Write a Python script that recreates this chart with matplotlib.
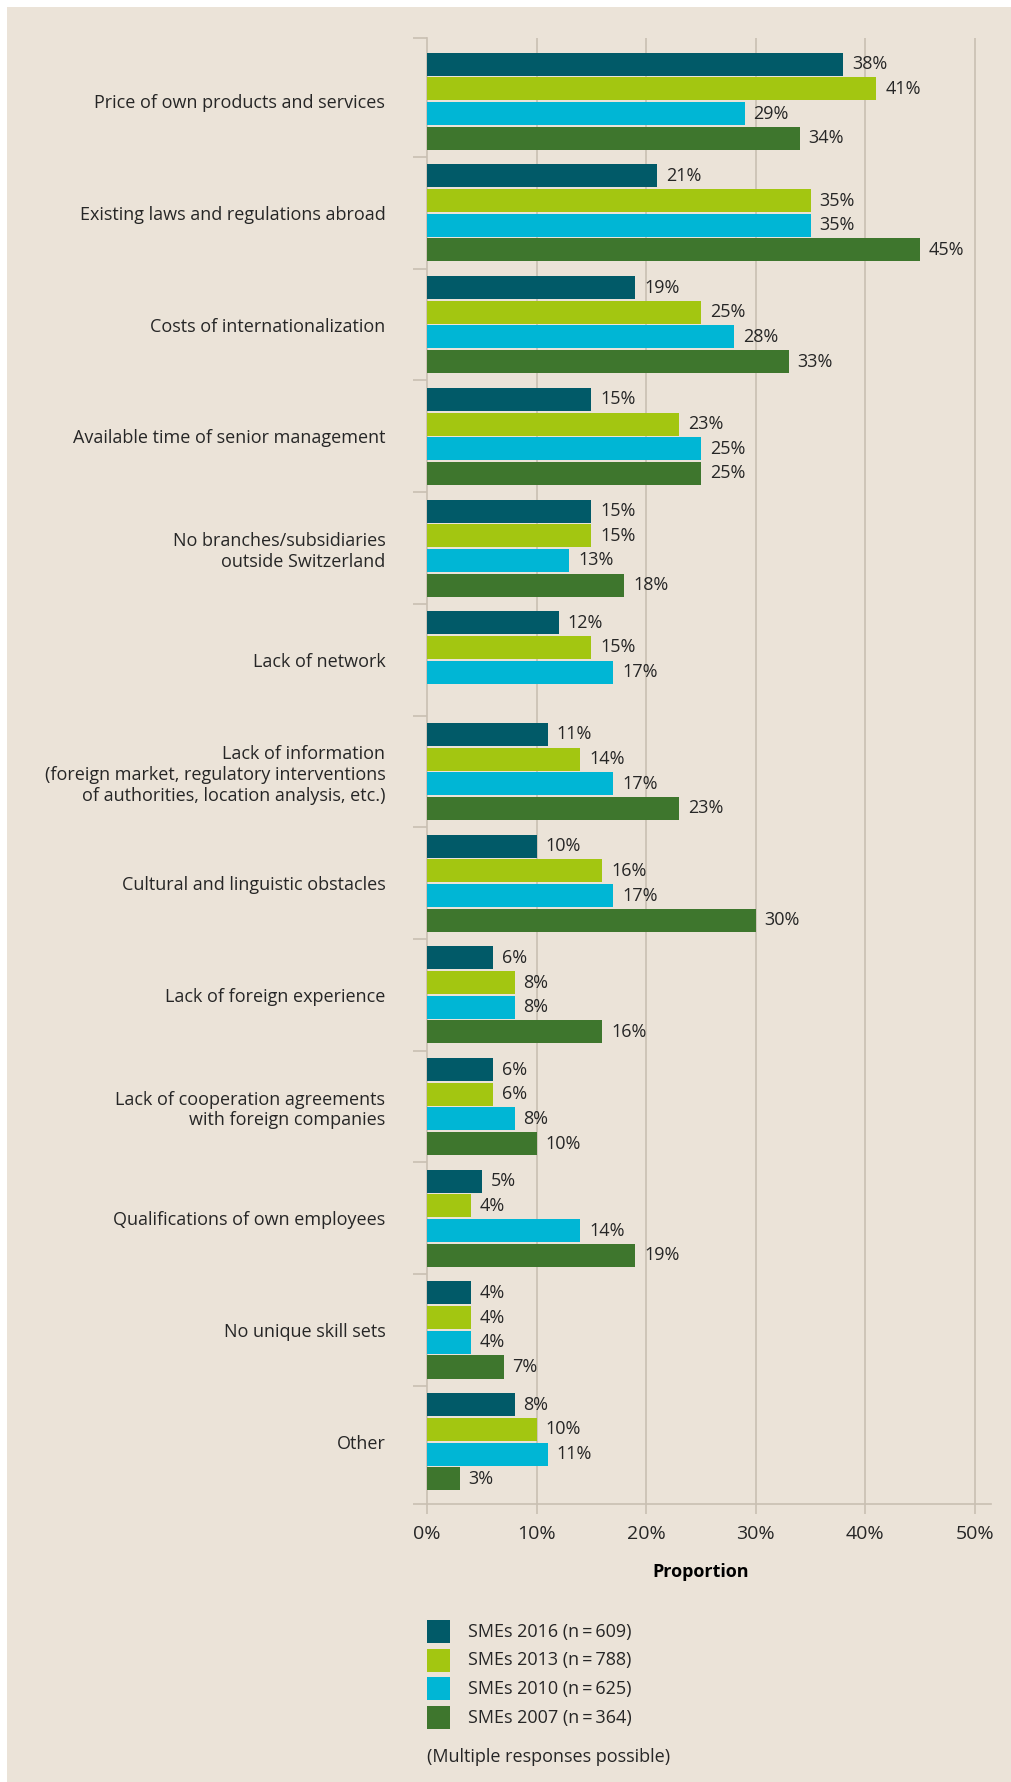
import numpy as np
import matplotlib.pyplot as plt
from matplotlib.patches import Rectangle

plt.rcParams['font.family'] = ['Open Sans', 'DejaVu Sans']

categories = [
    "Price of own products and services",
    "Existing laws and regulations abroad",
    "Costs of internationalization",
    "Available time of senior management",
    "No branches/subsidiaries\noutside Switzerland",
    "Lack of network",
    "Lack of information\n(foreign market, regulatory interventions\nof authorities, location analysis, etc.)",
    "Cultural and linguistic obstacles",
    "Lack of foreign experience",
    "Lack of cooperation agreements\nwith foreign companies",
    "Qualifications of own employees",
    "No unique skill sets",
    "Other",
]
smes_2016 = [38, 21, 19, 15, 15, 12, 11, 10, 6, 6, 5, 4, 8]
smes_2013 = [41, 35, 25, 23, 15, 15, 14, 16, 8, 6, 4, 4, 10]
smes_2010 = [29, 35, 28, 25, 13, 17, 17, 17, 8, 8, 14, 4, 11]
smes_2007 = [34, 45, 33, 25, 18, None, 23, 30, 16, 10, 19, 7, 3]
series_labels = ["SMEs 2016 (n\u2009=\u2009609)", "SMEs 2013 (n\u2009=\u2009788)",
                 "SMEs 2010 (n\u2009=\u2009625)", "SMEs 2007 (n\u2009=\u2009364)"]
colors = ["#015a68", "#a3c611", "#00b6d5", "#3e762d"]
xticks = [0, 10, 20, 30, 40, 50]

bg = "#ebe3d8"
grid_col = "#c9bfb2"
txt = "#262626"

W, H = 1012, 1782
fig = plt.figure(figsize=(W / 100, H / 100), dpi=100, facecolor="white")
fig.add_artist(Rectangle((7 / W, 0), 1 - 7 / W, 1 - 7 / H, transform=fig.transFigure,
                         facecolor=bg, edgecolor="none", zorder=-10))

ax_l, ax_r, ax_t, ax_b = 427, 991, 38.3, 1504
ax = fig.add_axes([ax_l / W, 1 - ax_b / H, (ax_r - ax_l) / W, (ax_b - ax_t) / H])
ax.set_facecolor(bg)
ax.patch.set_alpha(0)

pitch, bh = 0.221, 0.206
y = np.arange(len(categories))
all_series = [smes_2016, smes_2013, smes_2010, smes_2007]
for k, (vals, col) in enumerate(zip(all_series, colors)):
    yy = y + (k - 1.5) * pitch
    for yi, v in zip(yy, vals):
        if v is None:
            continue
        ax.barh(yi, v, height=bh, color=col, zorder=3)
        ax.text(v + 0.8, yi, f"{v}%", va="center", ha="left", fontsize=13, color=txt, zorder=4)

ax.set_xlim(0, 51.46)
ax.set_ylim(12.558, -0.5635)

for s in ["top", "right"]:
    ax.spines[s].set_visible(False)
for s in ["left", "bottom"]:
    ax.spines[s].set_color(grid_col)
    ax.spines[s].set_linewidth(1.2)

ax.set_xticks(xticks)
ax.set_xticklabels([f"{t}%" for t in xticks], fontsize=14, color=txt)
ax.tick_params(axis="x", length=7, width=1.2, color=grid_col, pad=8)
for t in xticks[1:]:
    ax.axvline(t, color=grid_col, lw=1.2, zorder=1)

ax.set_yticks(y)
ax.set_yticklabels(categories, fontsize=13, color=txt)
ax.tick_params(axis="y", which="major", length=0, pad=30)
bounds = [-0.5635] + list(np.arange(0.5, 12, 1.0)) + [12.558]
ax.set_yticks(bounds, minor=True)
ax.tick_params(axis="y", which="minor", length=10, width=1.2, color=grid_col)

fig.text(700.7 / W, 1 - 1571.7 / H, "Proportion", ha="center", va="center",
         fontsize=13, fontweight="bold", color="black")

# legend
for i, (lab, col) in enumerate(zip(series_labels, colors)):
    top = 1620 + i * 28.7
    fig.add_artist(Rectangle((427 / W, 1 - (top + 23) / H), 23 / W, 23 / H,
                             transform=fig.transFigure, facecolor=col, edgecolor="none"))
    fig.text(468.3 / W, 1 - (top + 11.5) / H, lab, ha="left", va="center",
             fontsize=13, color=txt)
fig.text(426.7 / W, 1 - 1757.3 / H, "(Multiple responses possible)", ha="left",
         va="center", fontsize=13, color=txt)

fig.savefig("out.png", dpi=100, facecolor="white")
